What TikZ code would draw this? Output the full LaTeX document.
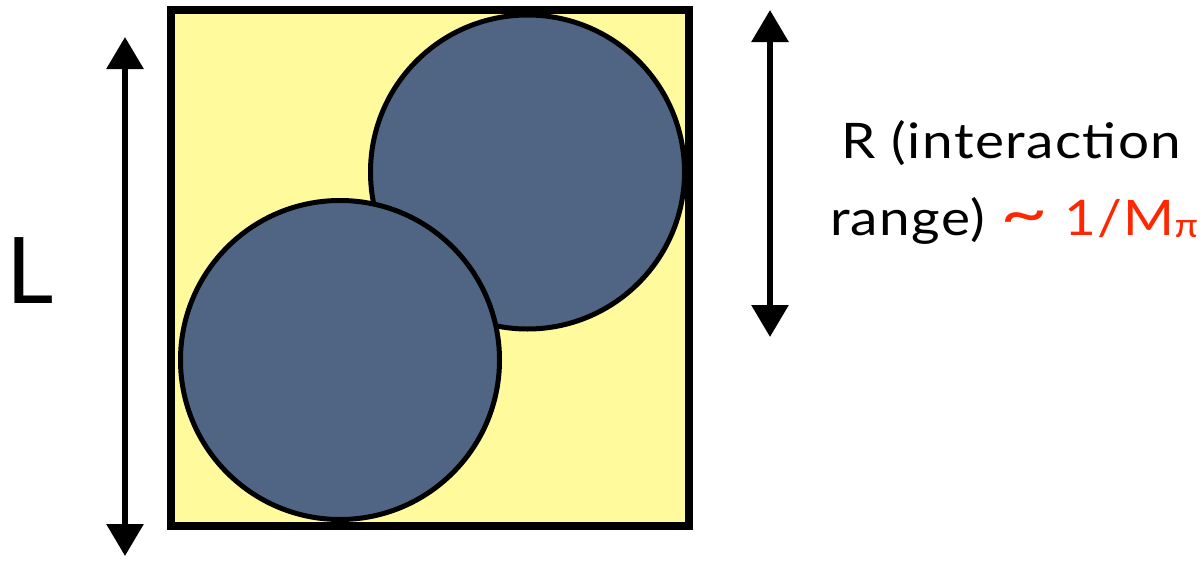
\documentclass[tikz,border=0pt]{standalone}
\usepackage{fontspec}
\setmainfont{Lato}
\usetikzlibrary{arrows.meta}
\definecolor{boxyellow}{RGB}{255,250,155}
\definecolor{ballblue}{RGB}{80,101,131}
\definecolor{redtxt}{RGB}{255,38,0}
\tikzset{
  boxstyle/.style={fill=boxyellow, draw=black, line width=7.5pt},
  ball/.style={fill=ballblue, draw=black, line width=5pt},
  dblarrow/.style={line width=6pt, {Triangle[length=32pt,width=36pt]}-{Triangle[length=32pt,width=36pt]}},
  bigtxt/.style={font=\fontsize{49}{60}\selectfont\addfontfeatures{FakeStretch=1.12,LetterSpace=3}, inner sep=0pt},
}
\begin{document}
\begin{tikzpicture}[x=1pt,y=-1pt]
\useasboundingbox (0,0) rectangle (1203,565);
\fill[boxyellow] (171,10) rectangle (689,526);
\draw[ball] (527.5,172) circle (157);
\draw[ball] (340,360) circle (159.5);
\draw[boxstyle, fill=none] (171,10) rectangle (689,526);
\coordinate (Ltop) at (125,37);
\coordinate (Lbot) at (125,556);
\draw[dblarrow] (Ltop) -- (Lbot);
\coordinate (Rtop) at (770,10);
\coordinate (Rbot) at (770,337);
\draw[dblarrow] (Rtop) -- (Rbot);
\node[font=\fontsize{92}{100}\selectfont, inner sep=0pt, anchor=base west] (L) at (6,303) {L};
\node[bigtxt, anchor=base] (r1) at (1011.5,158) {R (interaction};
\node[bigtxt, anchor=base] (r2) at (1014,235) {range) \textcolor{redtxt}{\scalebox{1.5}[1.3]{\textasciitilde} 1/M\raisebox{-2pt}{\fontsize{34}{34}\selectfont π}}};
\end{tikzpicture}
\end{document}
